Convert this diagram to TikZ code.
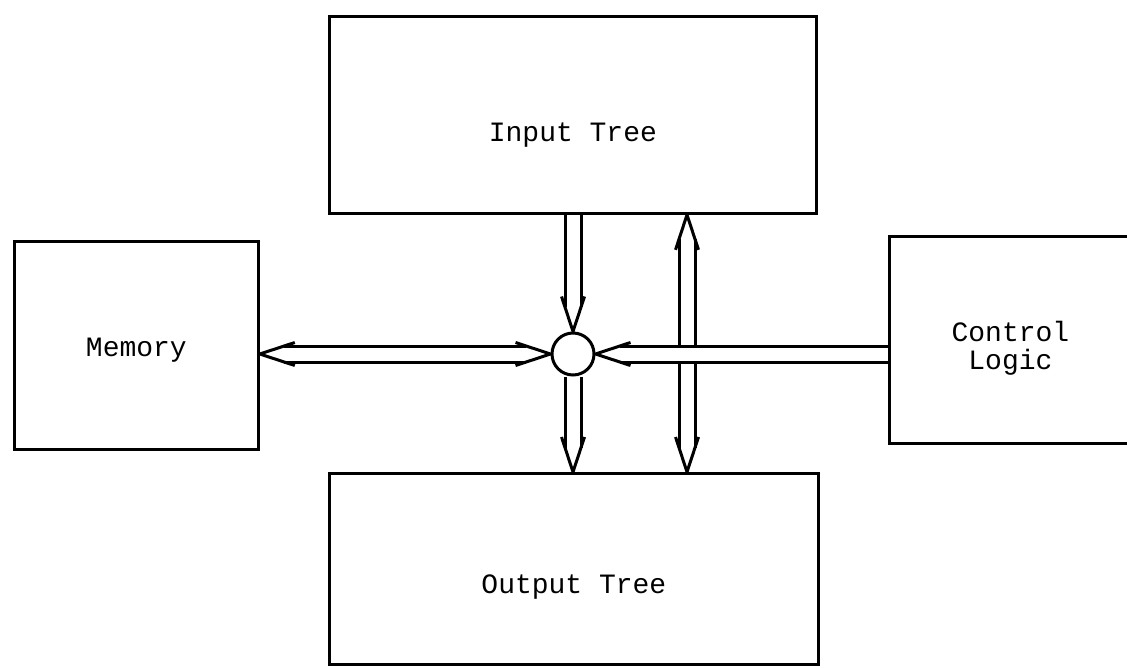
\documentclass[tikz,border=0pt]{standalone}
\usepackage{fontspec}
\setmonofont{Liberation Mono}
\usepackage{tikz}
\usetikzlibrary{arrows.meta,positioning,calc,decorations.markings}

\begin{document}
\begin{tikzpicture}[x=0.5pt, y=-0.5pt,
  font=\ttfamily\fontsize{14}{14}\selectfont,
  box/.style={draw, line width=1.4pt, inner sep=0pt, anchor=north west, align=center},
  hub/.style={draw, circle, line width=1.5pt, inner sep=0pt, minimum size=21pt},
  bus/.style={double, double distance=6.5pt, line width=1.5pt},
  barb/.style={line width=1.5pt, line join=round, shorten >=0pt, shorten <=0pt},
  head end/.style={shorten >=12.2pt, postaction={decorate, decoration={markings,
    mark=at position 1 with {\draw[barb] (-17.5pt,5.75pt) -- (0pt,0pt) -- (-17.5pt,-5.75pt);}}}},
  head start/.style={shorten <=12.2pt, postaction={decorate, decoration={markings,
    mark=at position 0 with {\draw[barb] (17.5pt,5.75pt) -- (0pt,0pt) -- (17.5pt,-5.75pt);}}}}]
\useasboundingbox (0,0) rectangle (1127,668);
\clip (0,0) rectangle (1127,668);
\node[box, minimum width=243.5pt, text height=62.5pt, text depth=36pt] (in) at (328,15) {Input Tree};
\node[box, minimum width=244.5pt, text height=60pt, text depth=35.5pt] (out) at (328,472) {Output Tree};
\node[box, minimum width=122pt, text height=57.5pt, text depth=46.5pt] (mem) at (13,240) {Memory};
\node[box, minimum width=121pt, text height=66.5pt, text depth=37pt] (ctl) at (888,235) {Control\\Logic};
\node[hub] (sw) at (573,354) {};
\coordinate (tap) at (687,354);
% buses
\draw[bus, head end] (sw |- in.south) -- (sw.north);
\draw[bus, head end] (sw.south) -- (sw |- out.north);
\draw[bus, head start, head end] (tap |- in.south) -- (tap |- out.north);
\draw[bus, head start, head end] (mem.east |- sw.west) -- (sw.west);
\draw[bus, head end] (ctl.west |- sw.east) -- (sw.east);
\end{tikzpicture}
\end{document}
